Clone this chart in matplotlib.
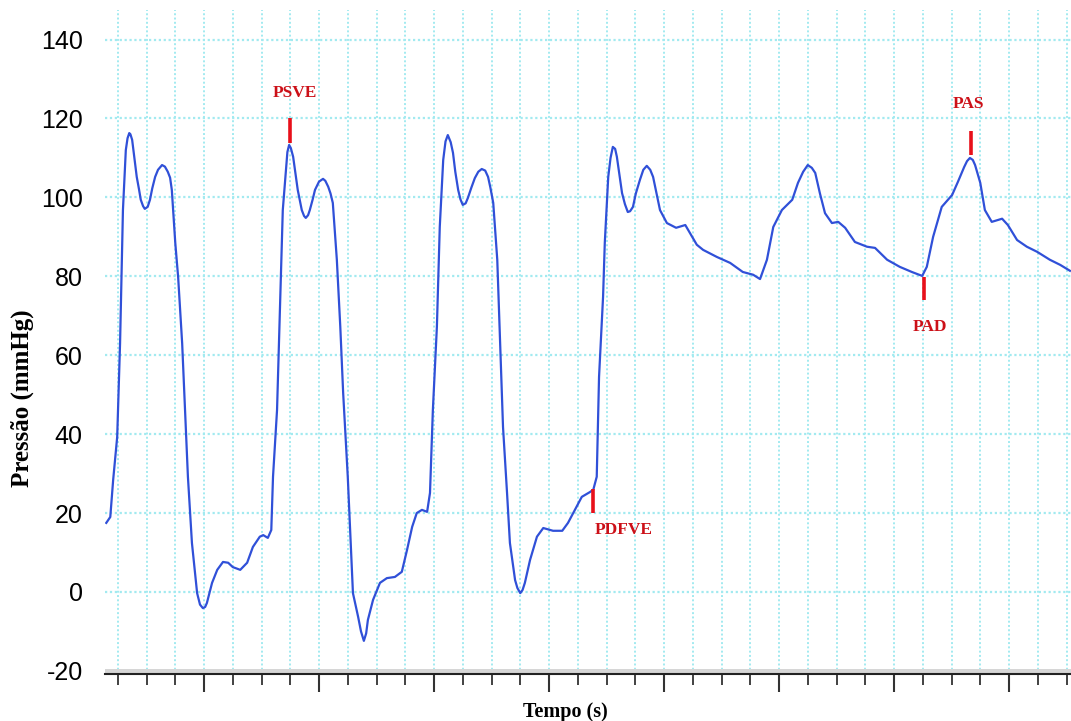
import numpy as np
import matplotlib
matplotlib.use('Agg')
import matplotlib.pyplot as plt
from matplotlib.ticker import MultipleLocator, NullFormatter

plt.rcParams['axes.unicode_minus'] = False

# curva de pressão registrada (tempo em s, pressão em mmHg)
tempo = [0.030, 0.037, 0.042, 0.049, 0.054, 0.059, 0.062, 0.064, 0.067, 0.070,
         0.072, 0.075, 0.078, 0.083, 0.087, 0.090, 0.094, 0.097, 0.102, 0.106,
         0.110, 0.115, 0.120, 0.127, 0.132, 0.137, 0.141, 0.144, 0.150, 0.155,
         0.162, 0.167, 0.172, 0.179, 0.188, 0.193, 0.198, 0.202, 0.205, 0.214,
         0.223, 0.233, 0.242, 0.250, 0.263, 0.275, 0.285, 0.297, 0.303, 0.311,
         0.317, 0.320, 0.327, 0.332, 0.337, 0.343, 0.345, 0.348, 0.351, 0.355,
         0.359, 0.363, 0.367, 0.370, 0.374, 0.377, 0.381, 0.384, 0.389, 0.393,
         0.400, 0.407, 0.411, 0.416, 0.420, 0.424, 0.431, 0.437, 0.442, 0.450,
         0.459, 0.468, 0.473, 0.478, 0.482, 0.485, 0.494, 0.506, 0.518, 0.532,
         0.544, 0.553, 0.562, 0.570, 0.579, 0.588, 0.593, 0.598, 0.605, 0.610,
         0.616, 0.620, 0.624, 0.629, 0.633, 0.637, 0.642, 0.646, 0.650, 0.655,
         0.659, 0.665, 0.671, 0.677, 0.683, 0.689, 0.694, 0.698, 0.703, 0.710,
         0.715, 0.720, 0.727, 0.732, 0.741, 0.745, 0.750, 0.754, 0.758, 0.767,
         0.779, 0.790, 0.807, 0.823, 0.833, 0.845, 0.857, 0.871, 0.877, 0.883,
         0.887, 0.894, 0.897, 0.903, 0.907, 0.911, 0.915, 0.918, 0.927, 0.932,
         0.937, 0.941, 0.946, 0.951, 0.958, 0.964, 0.970, 0.976, 0.981, 0.993,
         1.005, 1.021, 1.037, 1.045, 1.057, 1.068, 1.092, 1.115, 1.137, 1.155,
         1.167, 1.179, 1.190, 1.205, 1.223, 1.233, 1.242, 1.250, 1.257, 1.263,
         1.271, 1.280, 1.292, 1.303, 1.315, 1.332, 1.353, 1.367, 1.388, 1.410,
         1.431, 1.449, 1.457, 1.468, 1.483, 1.501, 1.511, 1.522, 1.527, 1.532,
         1.537, 1.541, 1.550, 1.558, 1.570, 1.588, 1.598, 1.614, 1.631, 1.649,
         1.671, 1.689, 1.706]
pressao = [17.5, 19.0, 28.4, 39.3, 63.0, 96.8, 106.0, 112.0, 115.0, 116.3,
           116.0, 114.6, 111.0, 105.2, 102.0, 99.4, 97.8, 97.1, 97.6, 99.4,
           102.3, 105.2, 107.0, 108.2, 107.8, 106.5, 105.0, 101.9, 88.5, 79.8,
           63.0, 46.1, 29.2, 12.4, -0.3, -3.2, -4.1, -3.8, -2.8, 2.3,
           5.6, 7.6, 7.4, 6.3, 5.6, 7.4, 11.4, 14.0, 14.4, 13.7,
           15.7, 29.2, 46.1, 71.5, 96.8, 107.7, 111.5, 113.3, 112.5, 110.3,
           106.0, 101.9, 99.0, 96.8, 95.3, 94.8, 95.5, 96.8, 99.5, 101.9,
           104.0, 104.7, 104.2, 102.7, 101.0, 98.6, 84.2, 67.2, 50.4, 29.2,
           -0.3, -6.3, -10.0, -12.4, -10.5, -7.1, -2.0, 2.3, 3.5, 3.8,
           5.1, 10.6, 16.5, 20.0, 20.8, 20.3, 25.1, 46.1, 67.2, 92.5,
           109.5, 114.2, 115.8, 114.0, 111.3, 106.5, 101.9, 99.5, 98.1, 98.5,
           99.9, 102.5, 104.9, 106.5, 107.2, 106.8, 105.2, 102.5, 98.6, 84.2,
           63.1, 41.8, 25.1, 12.4, 3.0, 1.0, -0.3, 0.5, 2.3, 8.1,
           14.0, 16.2, 15.5, 15.5, 17.5, 20.8, 24.1, 25.3, 25.9, 29.2,
           54.5, 74.8, 88.5, 105.2, 110.0, 112.8, 112.3, 110.3, 101.1, 98.3,
           96.3, 96.5, 97.6, 101.0, 104.4, 107.0, 108.0, 107.0, 105.2, 96.8,
           93.5, 92.3, 93.0, 91.0, 88.0, 86.7, 84.9, 83.4, 81.1, 80.4,
           79.3, 84.2, 92.5, 96.8, 99.4, 103.7, 106.5, 108.2, 107.5, 106.2,
           101.1, 96.0, 93.5, 93.8, 92.3, 88.7, 87.5, 87.2, 84.2, 82.4,
           81.1, 80.1, 82.4, 90.0, 97.6, 100.6, 103.9, 107.7, 109.2, 110.0,
           109.5, 108.2, 103.7, 96.8, 93.8, 94.6, 93.0, 89.2, 87.5, 86.2,
           84.2, 82.9, 81.4]

# marcadores: nome, tempo da marca, limites verticais da marca
marcas_nome = ['PSVE', 'PDFVE', 'PAD', 'PAS']
marcas_t = [0.350, 0.877, 1.452, 1.534]
marcas_p0 = [113.8, 20.0, 74.0, 110.8]
marcas_p1 = [120.0, 26.1, 79.8, 116.9]
# posição dos rótulos
rotulo_t = [0.358, 0.880, 1.463, 1.529]
rotulo_p = [126.5, 15.7, 67.2, 123.7]
rotulo_ha = ['center', 'left', 'center', 'center']

serif = ['Liberation Serif', 'DejaVu Serif']

fig = plt.figure(figsize=(10.71, 7.21), dpi=100)
ax = fig.add_axes([105/1071, 1 - 674/721, 966/1071, 664/721])

ax.set_xlim(0.0278, 1.7078)
ax.set_ylim(-20.8, 147.5)

# grade pontilhada
ax.set_yticks([140, 120, 100, 80, 60, 40, 20, 0, -20])
for v in [140, 120, 100, 80, 60, 40, 20, 0]:
    ax.axhline(v, color='#a2eaf0', lw=1.6, ls=(0, (1, 1.2)), zorder=1)
for xv in np.arange(0.05, 1.71, 0.05):
    ax.axvline(xv, color='#a2eaf0', lw=1.4, ls=(0, (1, 1.2)), zorder=1)

# faixa cinza sobre o eixo de tempo
ax.axhspan(-20.8, -19.6, color='#d6d6d6', zorder=2, lw=0)

ax.plot(tempo, pressao, color='#3050d8', lw=1.6, zorder=3,
        solid_joinstyle='round')

for i in range(len(marcas_nome)):
    ax.plot([marcas_t[i], marcas_t[i]], [marcas_p0[i], marcas_p1[i]],
            color='#e8101a', lw=2.6, solid_capstyle='butt', zorder=4)
    ax.text(rotulo_t[i], rotulo_p[i], marcas_nome[i], color='#cc1018',
            fontsize=12.5, fontweight='bold', family=serif,
            ha=rotulo_ha[i], va='center', zorder=5)

for s in ['left', 'right', 'top']:
    ax.spines[s].set_visible(False)
ax.spines['bottom'].set_color('#222222')
ax.spines['bottom'].set_linewidth(1.5)

ax.xaxis.set_major_locator(MultipleLocator(0.2))
ax.xaxis.set_minor_locator(MultipleLocator(0.05))
ax.xaxis.set_major_formatter(NullFormatter())
ax.tick_params(axis='x', which='major', length=13, width=1.5, color='#333333')
ax.tick_params(axis='x', which='minor', length=8, width=1.3, color='#333333')
ax.tick_params(axis='y', length=0, pad=16, labelsize=18)
for lb in ax.get_yticklabels():
    lb.set_family(['Liberation Sans', 'DejaVu Sans'])

fig.text(22/1071, 1 - 398/721, 'Pressão (mmHg)', rotation=90, fontsize=18,
         fontweight='bold', family=serif, ha='center', va='center')
fig.text(565/1071, 1 - 712/721, 'Tempo (s)', fontsize=14.5,
         fontweight='bold', family=serif, ha='center', va='center')

fig.savefig('out.png', dpi=100)
